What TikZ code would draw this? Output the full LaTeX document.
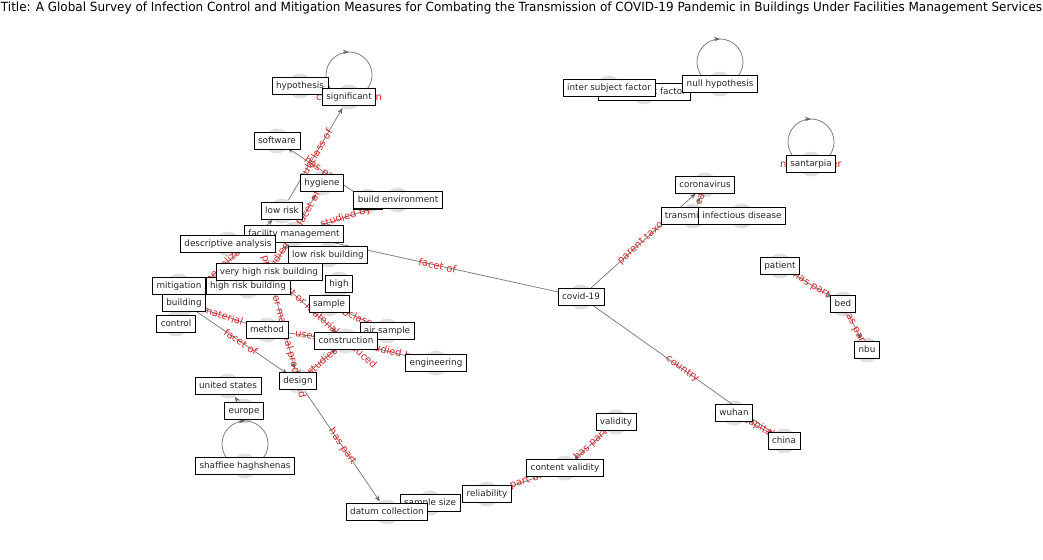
\documentclass[tikz,border=0pt]{standalone}
\usepackage{fontspec}
\setmainfont{DejaVu Sans}
\usetikzlibrary{arrows.meta}
\definecolor{elabel}{RGB}{214,39,40}
\definecolor{ecol}{RGB}{128,128,128}
\definecolor{acol}{RGB}{100,100,100}
\definecolor{ncirc}{RGB}{224,224,224}
\tikzset{
  dot/.style={circle, fill=ncirc, draw=none, minimum size=25pt, inner sep=0pt},
  lbl/.style={draw=black, line width=0.7pt, fill=white, text=black!85,
    font=\fontsize{8.8}{10}\selectfont, inner xsep=4pt, inner ysep=3pt,
    text height=8.2pt, text depth=2.4pt},
  edge/.style={draw=ecol, line width=0.8pt, -{Stealth[length=6pt,width=4.5pt,color=acol]}},
  loopline/.style={draw=ecol, line width=0.8pt},
  looparrow/.style={draw=ecol, line width=0.8pt, -{Stealth[length=6pt,width=4.5pt,color=acol]}},
  el/.style={text=elabel, font=\fontsize{10}{12}\selectfont, sloped, inner sep=0pt},
  ell/.style={text=elabel, font=\fontsize{10}{12}\selectfont, inner sep=0pt},
}
\begin{document}
\begin{tikzpicture}[x=1pt,y=-1pt]
\useasboundingbox (0,0) rectangle (1043,559);
\node[anchor=base, inner sep=0pt] (title) at (521.5,12)
  {\resizebox{1041pt}{9.6pt}{Title: A Global Survey of Infection Control and Mitigation Measures for Combating the Transmission of COVID-19 Pandemic in Buildings Under Facilities Management Services}};

% node markers
\node[dot] (hyp) at (300,86) {};
\node[dot] (sig) at (349,97) {};
\node[dot] (soft) at (277,141) {};
\node[dot] (hyg) at (322,183) {};
\node[dot] (bld) at (368,201) {};
\node[dot] (benv) at (398,200) {};
\node[dot] (lowr) at (282,211) {};
\node[dot] (fm) at (294,234) {};
\node[dot] (desc) at (228,244) {};
\node[dot] (lrb) at (328,255) {};
\node[dot] (vhrb) at (269,272) {};
\node[dot] (mit) at (179,286) {};
\node[dot] (hrb) at (248,286) {};
\node[dot] (high) at (339,284) {};
\node[dot] (build) at (184,303) {};
\node[dot] (samp) at (329,304) {};
\node[dot] (ctrl) at (176,324) {};
\node[dot] (meth) at (267,330) {};
\node[dot] (air) at (387,331) {};
\node[dot] (cons) at (346,341) {};
\node[dot] (eng) at (436,363) {};
\node[dot] (des) at (298,381) {};
\node[dot] (us) at (228,386) {};
\node[dot] (eu) at (244,411) {};
\node[dot] (shaf) at (245,466) {};
\node[dot] (datum) at (387,512) {};
\node[dot] (ssize) at (430,503) {};
\node[dot] (rel) at (487,494) {};
\node[dot] (cval) at (565,468) {};
\node[dot] (val) at (616,422) {};
\node[dot] (covid) at (581,297) {};
\node[dot] (isf) at (609,88) {};
\node[dot] (osf) at (644,92) {};
\node[dot] (nullh) at (720,84) {};
\node[dot] (corona) at (705,185) {};
\node[dot] (trans) at (693,216) {};
\node[dot] (infd) at (742,216) {};
\node[dot] (sant) at (811,164) {};
\node[dot] (pat) at (780,266) {};
\node[dot] (bed) at (843,304) {};
\node[dot] (nbu) at (867,350) {};
\node[dot] (wuhan) at (734,413) {};
\node[dot] (china) at (784,441) {};

% edges
\draw[edge] (lowr) -- node[el]{subclass of} (sig);
\draw[edge] (bld) -- node[el]{has part} (soft);
\draw[edge] (fm) -- node[el]{facet of} (hyg);
\draw[edge] (fm) -- node[el]{studied by} (benv);
\draw[edge] (fm) -- node[el]{facet of} (covid);
\draw[edge] (vhrb) -- node[el]{studied by} (fm);
\draw[edge] (build) -- node[el]{specialization of} (lowr);
\draw[edge] (build) -- node[el,pos=0.68]{material used} (meth);
\draw[edge] (build) -- node[el]{facet of} (des);
\draw[edge] (vhrb) -- node[el]{product or material produced} (des);
\draw[edge] (vhrb) -- node[el,pos=0.72]{product or material produced} (cons);
\draw[edge] (meth) -- node[el]{uses} (cons);
\draw[edge] (des) -- node[el]{studies} (cons);
\draw[edge] (samp) -- node[el]{subclass of} (air);
\draw[edge] (cons) -- node[el]{studied by} (eng);
\draw[edge] (des) -- node[el]{has part} (datum);
\draw[edge] (rel) -- node[el]{part of} (cval);
\draw[edge] (val) -- node[el]{has part} (cval);
\draw[edge] (eu) -- (us);
\draw[edge] (covid) -- node[el]{parent taxon} (corona);
\draw[edge] (trans) -- node[el]{has cause} (corona);
\draw[edge] (covid) -- node[el]{country} (china);
\draw[edge] (wuhan) -- node[el]{capital} (china);
\draw[edge] (pat) -- node[el]{has part} (bed);
\draw[edge] (bed) -- node[el]{has part} (nbu);

% self loops
\foreach \n in {sig,nullh,sant,shaf}{
  \draw[loopline] ([yshift=22pt]\n.center) circle[radius=23pt];
  \draw[looparrow] ([shift={(-6pt,45pt)}]\n.center) -- ([shift={(0pt,45pt)}]\n.center);
}
\node[ell] at (sig) {contradiction};
\node[ell] at (sant) {named after};

% labels
\node[lbl] (hyp-l) at (hyp) {hypothesis};
\node[lbl] (sig-l) at (sig) {significant};
\node[lbl] (soft-l) at (soft) {software};
\node[lbl] (hyg-l) at (hyg) {hygiene};
\node[lbl] (bld-l) at (bld) {build};
\node[lbl] (benv-l) at (benv) {build environment};
\node[lbl] (lowr-l) at (lowr) {low risk};
\node[lbl] (fm-l) at (fm) {facility management};
\node[lbl] (desc-l) at (desc) {descriptive analysis};
\node[lbl] (lrb-l) at (lrb) {low risk building};
\node[lbl] (hrb-l) at (hrb) {high risk building};
\node[lbl] (vhrb-l) at (vhrb) {very high risk building};
\node[lbl] (mit-l) at (mit) {mitigation};
\node[lbl] (high-l) at (high) {high};
\node[lbl] (build-l) at (build) {building};
\node[lbl] (samp-l) at (samp) {sample};
\node[lbl] (ctrl-l) at (ctrl) {control};
\node[lbl] (meth-l) at (meth) {method};
\node[lbl] (air-l) at (air) {air sample};
\node[lbl] (cons-l) at (cons) {construction};
\node[lbl] (eng-l) at (eng) {engineering};
\node[lbl] (des-l) at (des) {design};
\node[lbl] (us-l) at (us) {united states};
\node[lbl] (eu-l) at (eu) {europe};
\node[lbl] (shaf-l) at (shaf) {shaffiee haghshenas};
\node[lbl] (ssize-l) at (ssize) {sample size};
\node[lbl] (datum-l) at (datum) {datum collection};
\node[lbl] (rel-l) at (rel) {reliability};
\node[lbl] (cval-l) at (cval) {content validity};
\node[lbl] (val-l) at (val) {validity};
\node[lbl] (covid-l) at (covid) {covid-19};
\node[lbl] (osf-l) at (osf) {intra subject factor};
\node[lbl] (isf-l) at (isf) {inter subject factor};
\node[lbl] (nullh-l) at (nullh) {null hypothesis};
\node[lbl] (corona-l) at (corona) {coronavirus};
\node[lbl] (trans-l) at (trans) {transmission};
\node[lbl] (infd-l) at (infd) {infectious disease};
\node[lbl] (sant-l) at (sant) {santarpia};
\node[lbl] (pat-l) at (pat) {patient};
\node[lbl] (bed-l) at (bed) {bed};
\node[lbl] (nbu-l) at (nbu) {nbu};
\node[lbl] (wuhan-l) at (wuhan) {wuhan};
\node[lbl] (china-l) at (china) {china};
\end{tikzpicture}
\end{document}
